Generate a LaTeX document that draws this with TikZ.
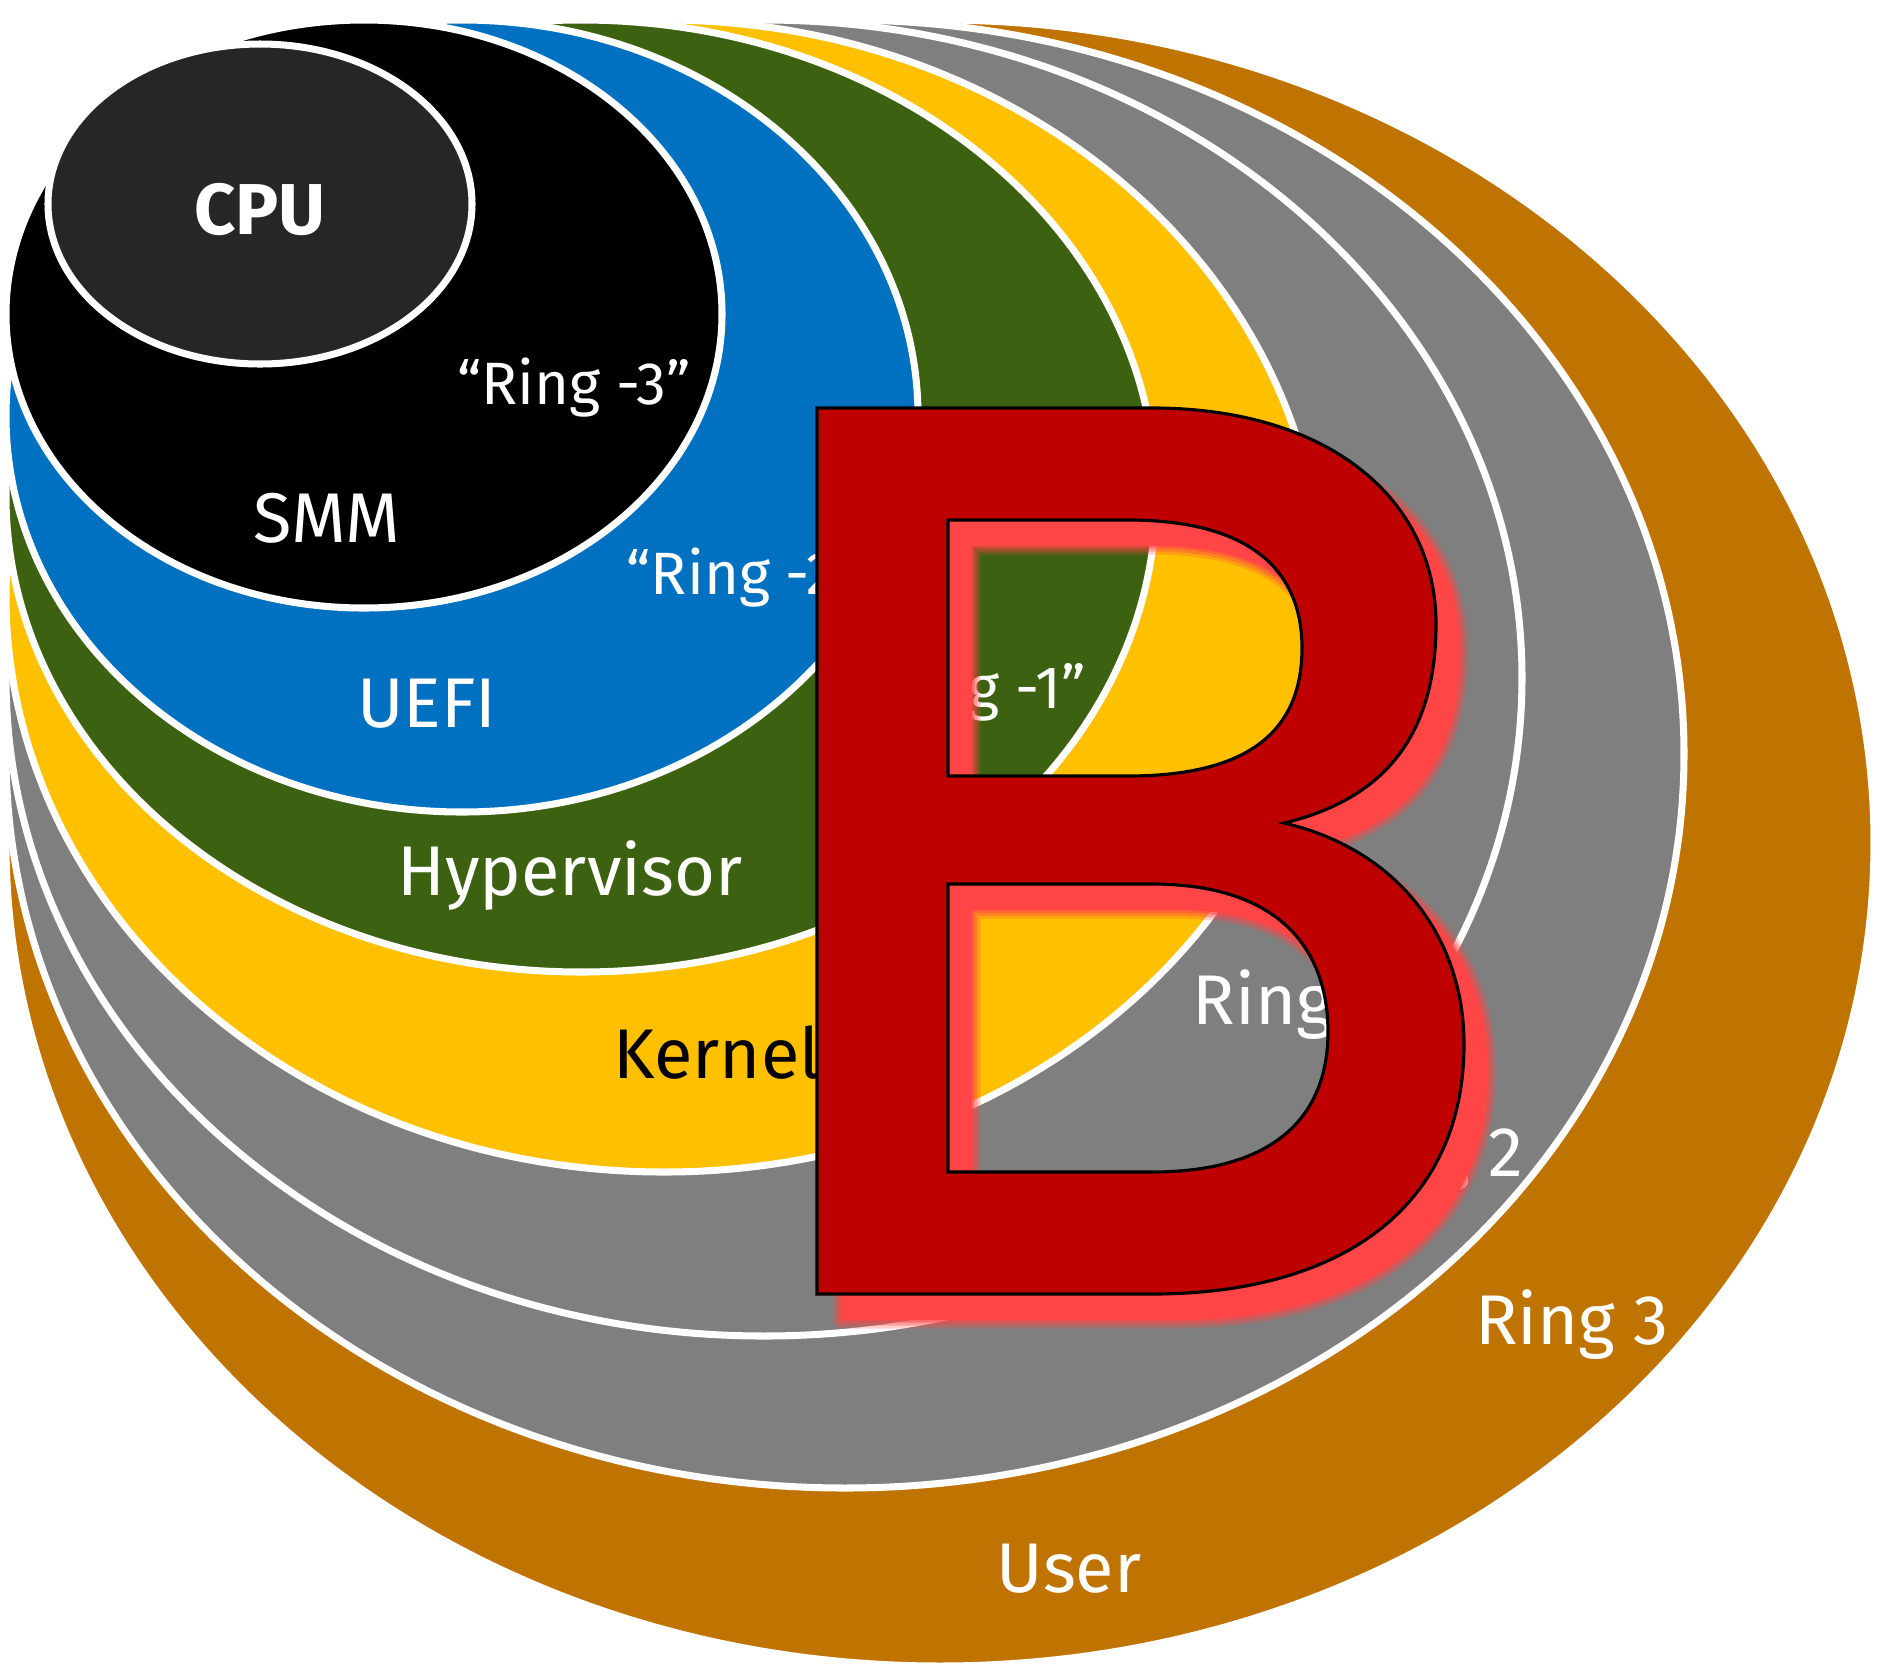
\documentclass[tikz,border=0pt]{standalone}
\usepackage{fontspec}
\setmainfont{Fira Sans}
\definecolor{userbrown}{HTML}{BF7300}
\definecolor{ringgray}{HTML}{7F7F7F}
\definecolor{kernelyellow}{HTML}{FFC000}
\definecolor{hvgreen}{HTML}{3C6110}
\definecolor{uefiblue}{HTML}{0070C0}
\definecolor{cpugray}{HTML}{262626}
\definecolor{bred}{HTML}{BE0000}
\definecolor{bglow}{HTML}{FF4545}
\newcommand{\bletter}{
  (817,408) -- (1152,408) .. controls (1330,408) and (1436,500) .. (1436,624)
  .. controls (1436,740) and (1380,800) .. (1284,823)
  .. controls (1400,850) and (1464,940) .. (1464,1044)
  .. controls (1464,1200) and (1350,1294) .. (1152,1294)
  -- (817,1294) -- cycle
  (948,520) -- (1128,520) .. controls (1250,520) and (1302,570) .. (1302,648)
  .. controls (1302,730) and (1250,776) .. (1128,776) -- (948,776) -- cycle
  (948,884) -- (1152,884) .. controls (1280,884) and (1328,950) .. (1328,1032)
  .. controls (1328,1120) and (1270,1172) .. (1152,1172) -- (948,1172) -- cycle}
\begin{document}
\begin{tikzpicture}[x=0.01cm, y=-0.01cm,
    ring/.style={draw=white, line width=2pt},
    lbl/.style={text=white, inner sep=0pt, font=\fontsize{20}{24}\selectfont},
    qlbl/.style={lbl, font=\fontsize{17}{20}\selectfont}]
    \useasboundingbox (0,0) rectangle (1881,1672);
    %%draw the rings, outside in
    \draw[ring, fill=userbrown] (940,843) ellipse (934 and 823);
    \draw[ring, fill=ringgray] (845,754) ellipse (839 and 734);
    \draw[ring, fill=ringgray] (764,678) ellipse (758 and 658);
    \draw[ring, fill=kernelyellow] (664,596) ellipse (658 and 576);
    \draw[ring, fill=hvgreen] (581,496) ellipse (575 and 476);
    \draw[ring, fill=uefiblue] (462,416) ellipse (456 and 396);
    \draw[ring, fill=black] (364,314) ellipse (358 and 294);
    \draw[ring, fill=cpugray] (260,204) ellipse (212 and 160);

    %%labels
    \node[lbl, anchor=base, font=\fontsize{20.5}{24}\selectfont\bfseries] (cpu) at (260,234){CPU};
    \node[qlbl, anchor=base] (ringm3) at (574,404){“Ring -3”};
    \node[lbl, anchor=base] (smm) at (327,542){SMM};
    \node[qlbl, anchor=base west] (ringm2) at (626,594){“Ring -2”};
    \node[lbl, anchor=base] (uefi) at (427,727){UEFI};
    \node[qlbl, anchor=base east] (ringm1) at (1086,708){“Ring -1”};
    \node[lbl, anchor=base] (hyper) at (570,895){Hypervisor};
    \node[lbl, anchor=base, text=black] (kernel) at (717,1078){Kernel};
    \node[lbl, anchor=base west] (ring1) at (1192,1024){Ring 1};
    \node[lbl, anchor=base east] (ring2) at (1524,1176){Ring 2};
    \node[lbl, anchor=base] (ring3) at (1572,1344){Ring 3};
    \node[lbl, anchor=base] (user) at (1069,1592){User};

    %%the glow behind the B
    \begin{scope}[shift={(24,26)}]
        \draw[bglow, line width=0.17cm, opacity=0.25, line join=round] \bletter;
        \draw[bglow, line width=0.11cm, opacity=0.35, line join=round] \bletter;
        \draw[bglow, line width=0.05cm, opacity=0.5, line join=round] \bletter;
        \fill[bglow, even odd rule] \bletter;
    \end{scope}
    %%the B
    \fill[bred, even odd rule, draw=black, line width=0.9pt] \bletter;
\end{tikzpicture}
\end{document}
